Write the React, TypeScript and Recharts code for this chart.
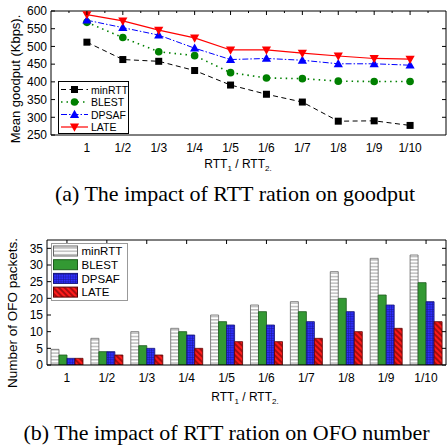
import React from 'react';
import { LineChart, Line, BarChart, Bar, XAxis, YAxis, Legend } from 'recharts';

const SANS = '"Liberation Sans", Arial, Helvetica, sans-serif';
const SERIF = '"Liberation Serif", "Times New Roman", serif';

const categories = ['1', '1/2', '1/3', '1/4', '1/5', '1/6', '1/7', '1/8', '1/9', '1/10'];

// (a) mean goodput (Kbps)
const goodMinRTT = [512, 463, 458, 432, 391, 365, 343, 289, 290, 277];
const goodBLEST = [568, 525, 485, 474, 426, 411, 409, 402, 401, 401];
const goodDPSAF = [574, 553, 532, 495, 463, 466, 461, 451, 451, 447];
const goodLATE = [590, 572, 546, 524, 490, 490, 481, 473, 466, 464];
const goodTicks = [250, 300, 350, 400, 450, 500, 550, 600];

// (b) number of OFO packets
const ofoMinRTT = [4.7, 8, 10, 11, 15, 18, 19, 28, 32, 33];
const ofoBLEST = [3, 4, 5.8, 10, 13, 16, 16, 20, 21, 24.7];
const ofoDPSAF = [2, 4, 5, 9, 12, 12, 13, 16, 18, 19];
const ofoLATE = [2, 3, 3, 5, 7, 7, 8, 10, 11, 13];
const ofoTicks = [0, 5, 10, 15, 20, 25, 30, 35];

const goodData = categories.map((cat, i) => ({
  x: i + 1,
  cat,
  minRTT: goodMinRTT[i],
  BLEST: goodBLEST[i],
  DPSAF: goodDPSAF[i],
  LATE: goodLATE[i],
}));

const ofoData = categories.map((cat, i) => ({
  cat,
  minRTT: ofoMinRTT[i],
  BLEST: ofoBLEST[i],
  DPSAF: ofoDPSAF[i],
  LATE: ofoLATE[i],
}));

const lineSeries = [
  { key: 'minRTT', color: '#000000', dash: '5 3.5', width: 1, marker: 'square' },
  { key: 'BLEST', color: '#008000', dash: '1.5 4', width: 1.6, marker: 'circle' },
  { key: 'DPSAF', color: '#0000ff', dash: '6 2 1.5 2', width: 1, marker: 'up' },
  { key: 'LATE', color: '#ff0000', dash: undefined, width: 1.2, marker: 'down' },
];

const barSeries = [
  { key: 'minRTT', fill: 'url(#patMin)', stroke: '#666666' },
  { key: 'BLEST', fill: '#339933', stroke: '#1d5a1d' },
  { key: 'DPSAF', fill: 'url(#patBlue)', stroke: '#12127a' },
  { key: 'LATE', fill: 'url(#patRed)', stroke: '#5a0000' },
];

function Marker({ kind, cx, cy, color }: any) {
  if (kind === 'square') return <rect x={cx - 3.5} y={cy - 3.5} width={7} height={7} fill={color} />;
  if (kind === 'circle') return <circle cx={cx} cy={cy} r={3.8} fill={color} />;
  if (kind === 'up')
    return <polygon points={`${cx},${cy - 4.8} ${cx + 4.6},${cy + 3.4} ${cx - 4.6},${cy + 3.4}`} fill={color} />;
  return <polygon points={`${cx},${cy + 4.8} ${cx + 4.6},${cy - 3.4} ${cx - 4.6},${cy - 3.4}`} fill={color} />;
}

const LeftTick = (props: any) => {
  const { x, y, payload } = props;
  return (
    <g>
      <line x1={x} y1={y} x2={x + 4} y2={y} stroke="#000" />
      <text x={x - 4} y={y} dy={4.3} textAnchor="end" fontSize={12} fontFamily={SANS} fill="#000">
        {payload.value}
      </text>
    </g>
  );
};

const RightTick = (props: any) => {
  const { x, y } = props;
  return <line x1={x - 4} y1={y} x2={x} y2={y} stroke="#000" />;
};

const TopTick = (props: any) => {
  const { x, y, payload } = props;
  const major = Number.isInteger(payload.value) || typeof payload.value === 'string';
  return <line x1={x} y1={y} x2={x} y2={y + (major ? 4 : 2)} stroke="#000" />;
};

const BottomTick = (props: any) => {
  const { x, y, payload } = props;
  const label = typeof payload.value === 'number' ? categories[payload.value - 1] : payload.value;
  return (
    <text x={x} y={y} dy={16.5} textAnchor="middle" fontSize={12} fontFamily={SANS} fill="#000">
      {label}
    </text>
  );
};

function GoodLegend() {
  return (
    <svg width={71} height={53}>
      <rect x={0.5} y={0.5} width={70} height={52} fill="#fff" stroke="#000" />
      {lineSeries.map((s, i) => {
        const cy = 8.5 + i * 12.5;
        return (
          <g key={s.key}>
            <line x1={3} x2={30} y1={cy} y2={cy} stroke={s.color} strokeWidth={s.width} strokeDasharray={s.dash} />
            <Marker kind={s.marker} cx={16.5} cy={cy} color={s.color} />
            <text x={33} y={cy} dy={4} fontSize={10.5} fontFamily={SANS} fill="#000">
              {s.key}
            </text>
          </g>
        );
      })}
    </svg>
  );
}

function OfoLegend() {
  return (
    <svg width={77} height={58}>
      <rect x={0.5} y={0.5} width={76} height={57} fill="#fff" stroke="#999" />
      {barSeries.map((s, i) => {
        const cy = 8 + i * 13.7;
        return (
          <g key={s.key}>
            <rect x={2.5} y={cy - 5} width={24} height={10} fill={s.fill} stroke={s.stroke} />
            <text x={30.5} y={cy} dy={4.3} fontSize={11.5} fontFamily={SANS} fill="#000">
              {s.key}
            </text>
          </g>
        );
      })}
    </svg>
  );
}

const abs = (left: number, top: number, extra: any = {}) => ({
  position: 'absolute' as const,
  left,
  top,
  whiteSpace: 'nowrap' as const,
  ...extra,
});

export default function App() {
  return (
    <div style={{ position: 'absolute', left: 0, top: 0, width: 447, height: 447, background: '#fff', overflow: 'hidden' }}>
      <svg width={0} height={0} style={{ position: 'absolute' }}>
        <defs>
          <pattern id="patMin" width={4} height={3.33} patternUnits="userSpaceOnUse">
            <rect width={4} height={3.33} fill="#fff" />
            <line x1={0} x2={4} y1={1.6} y2={1.6} stroke="#9a9a9a" strokeWidth={1} />
          </pattern>
          <pattern id="patBlue" width={2.4} height={2.4} patternUnits="userSpaceOnUse">
            <rect width={2.4} height={2.4} fill="#2f2fff" />
            <line x1={0} x2={2.4} y1={0.3} y2={0.3} stroke="#1a1a9a" strokeWidth={0.6} />
            <line x1={0.3} x2={0.3} y1={0} y2={2.4} stroke="#1a1a9a" strokeWidth={0.6} />
          </pattern>
          <pattern id="patRed" width={4} height={4} patternUnits="userSpaceOnUse" patternTransform="rotate(45)">
            <rect width={4} height={4} fill="#ff1a1a" />
            <line x1={0} x2={4} y1={2} y2={2} stroke="#3a0000" strokeWidth={0.9} />
          </pattern>
        </defs>
      </svg>

      {/* (a) goodput */}
      <div style={abs(0, 0)}>
        <LineChart width={447} height={155} data={goodData} margin={{ top: 10, right: 0, bottom: 0, left: 0 }}>
          <XAxis
            xAxisId="b"
            dataKey="x"
            type="number"
            domain={[0, 11]}
            ticks={[1, 2, 3, 4, 5, 6, 7, 8, 9, 10]}
            interval={0}
            height={20}
            stroke="#000"
            tickLine={false}
            tickSize={0}
            tickMargin={0}
            tick={BottomTick}
          />
          <XAxis
            xAxisId="t"
            orientation="top"
            dataKey="x"
            type="number"
            domain={[0, 11]}
            ticks={[0.5, 1, 1.5, 2, 2.5, 3, 3.5, 4, 4.5, 5, 5.5, 6, 6.5, 7, 7.5, 8, 8.5, 9, 9.5, 10, 10.5]}
            interval={0}
            height={1}
            stroke="#000"
            tickLine={false}
            tickSize={0}
            tickMargin={0}
            tick={TopTick}
          />
          <YAxis
            yAxisId="l"
            domain={[250, 600]}
            ticks={goodTicks}
            interval={0}
            width={51}
            stroke="#000"
            tickLine={false}
            tickSize={0}
            tickMargin={0}
            tick={LeftTick}
            allowDataOverflow
          />
          <YAxis
            yAxisId="r"
            orientation="right"
            domain={[250, 600]}
            ticks={[300, 350, 400, 450, 500, 550]}
            interval={0}
            width={1}
            stroke="#000"
            tickLine={false}
            tickSize={0}
            tickMargin={0}
            tick={RightTick}
            allowDataOverflow
          />
          {lineSeries.map((s) => (
            <Line
              key={s.key}
              xAxisId="b"
              yAxisId="l"
              dataKey={s.key}
              stroke={s.color}
              strokeWidth={s.width}
              strokeDasharray={s.dash}
              type="linear"
              isAnimationActive={false}
              dot={(p: any) => <Marker key={`${s.key}-${p.index}`} kind={s.marker} cx={p.cx} cy={p.cy} color={s.color} />}
              activeDot={false}
            />
          ))}
          <Legend
            layout="vertical"
            align="center"
            verticalAlign="middle"
            content={() => <GoodLegend />}
            wrapperStyle={{ position: 'absolute', left: 58, top: 81, width: 71, height: 53, margin: 0, padding: 0, lineHeight: 0 }}
          />
        </LineChart>
      </div>
      <div style={abs(15, 79, { transform: 'translate(-50%, -50%) rotate(-90deg)', fontFamily: SANS, fontSize: 13 })}>
        Mean goodput (Kbps).
      </div>
      <div style={abs(238, 165, { transform: 'translate(-50%, -50%)', fontFamily: SANS, fontSize: 12 })}>
        RTT<sub style={{ fontSize: 8 }}>1</sub> / RTT<sub style={{ fontSize: 8 }}>2.</sub>
      </div>
      <div style={abs(235, 194, { transform: 'translate(-50%, -50%)', fontFamily: SERIF, fontSize: 22 })}>
        (a) The impact of RTT ration on goodput
      </div>

      {/* (b) OFO packets */}
      <div style={abs(0, 225)}>
        <BarChart
          width={447}
          height={160}
          data={ofoData}
          margin={{ top: 14, right: 0, bottom: 0, left: 0 }}
          barCategoryGap="10%"
          barGap={0}
        >
          <XAxis
            xAxisId="b"
            dataKey="cat"
            height={20}
            stroke="#000"
            tickLine={false}
            tickSize={0}
            tickMargin={0}
            tick={BottomTick}
            interval={0}
          />
          <XAxis
            xAxisId="t"
            orientation="top"
            dataKey="cat"
            height={1}
            stroke="#000"
            tickLine={false}
            tickSize={0}
            tickMargin={0}
            tick={TopTick}
            interval={0}
          />
          <YAxis
            yAxisId="l"
            domain={[0, 37.5]}
            ticks={ofoTicks}
            interval={0}
            width={47}
            stroke="#000"
            tickLine={false}
            tickSize={0}
            tickMargin={0}
            tick={LeftTick}
            allowDataOverflow
          />
          <YAxis
            yAxisId="r"
            orientation="right"
            domain={[0, 37.5]}
            ticks={ofoTicks}
            interval={0}
            width={1}
            stroke="#000"
            tickLine={false}
            tickSize={0}
            tickMargin={0}
            tick={RightTick}
            allowDataOverflow
          />
          {barSeries.map((s) => (
            <Bar
              key={s.key}
              xAxisId="b"
              yAxisId="l"
              dataKey={s.key}
              fill={s.fill}
              stroke={s.stroke}
              strokeWidth={0.8}
              isAnimationActive={false}
            />
          ))}
          <Legend
            layout="vertical"
            align="center"
            verticalAlign="middle"
            content={() => <OfoLegend />}
            wrapperStyle={{ position: 'absolute', left: 51, top: 18, width: 77, height: 58, margin: 0, padding: 0, lineHeight: 0 }}
          />
        </BarChart>
      </div>
      <div style={abs(12, 313, { transform: 'translate(-50%, -50%) rotate(-90deg)', fontFamily: SANS, fontSize: 13.5 })}>
        Number of OFO packets.
      </div>
      <div style={abs(245, 398, { transform: 'translate(-50%, -50%)', fontFamily: SANS, fontSize: 12 })}>
        RTT<sub style={{ fontSize: 8 }}>1</sub> / RTT<sub style={{ fontSize: 8 }}>2.</sub>
      </div>
      <div style={abs(226.5, 433, { transform: 'translate(-50%, -50%)', fontFamily: SERIF, fontSize: 22 })}>
        (b) The impact of RTT ration on OFO number
      </div>
    </div>
  );
}
